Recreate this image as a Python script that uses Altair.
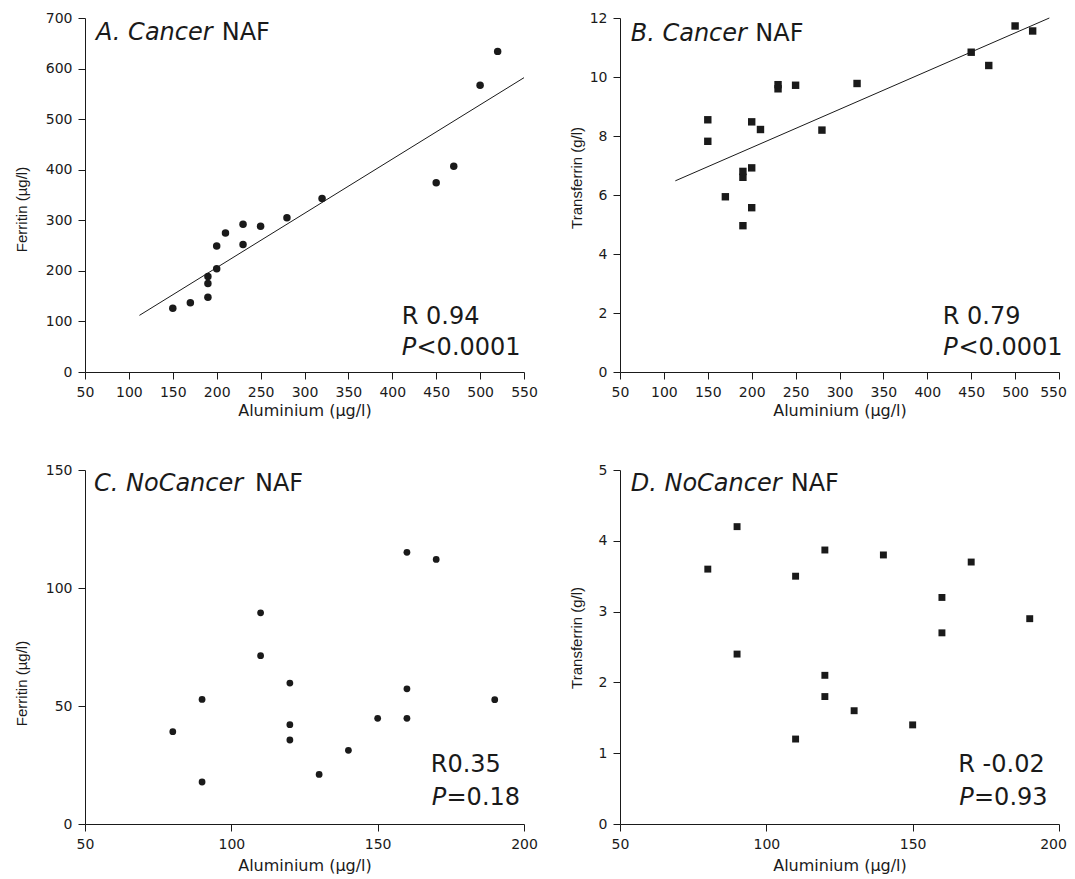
import altair as alt
import pandas as pd

# ---------------- data ----------------
a_x = [150, 170, 190, 190, 190, 200, 200, 210, 230, 230, 250, 280, 320, 450, 470, 500, 520]
a_y = [126, 137, 148, 175, 189, 204, 249, 275, 252, 292, 288, 305, 343, 374, 407, 567, 634]
a_line_x = [112, 550]
a_line_y = [112, 582]

b_x = [150, 150, 170, 190, 190, 190, 200, 200, 200, 210, 230, 230, 250, 280, 320, 450, 470, 500, 520]
b_y = [8.55, 7.82, 5.94, 4.96, 6.6, 6.8, 5.57, 6.92, 8.48, 8.22, 9.6, 9.74, 9.72, 8.2, 9.78, 10.84, 10.39, 11.73, 11.56]
b_line_x = [113, 539]
b_line_y = [6.48, 12.0]

c_x = [80, 90, 90, 110, 110, 120, 120, 120, 130, 140, 150, 160, 160, 160, 170, 190]
c_y = [39.1, 52.8, 17.8, 89.5, 71.3, 59.7, 42.1, 35.6, 21.0, 31.2, 44.8, 115.1, 57.3, 44.8, 112.1, 52.7]

d_x = [80, 90, 90, 110, 110, 120, 120, 120, 130, 140, 150, 160, 160, 170, 190]
d_y = [3.6, 4.2, 2.4, 3.5, 1.2, 3.87, 2.1, 1.8, 1.6, 3.8, 1.4, 3.2, 2.7, 3.7, 2.9]

x_title = "Aluminium (µg/l)"
ferritin_title = "Ferritin (µg/l)"
transferrin_title = "Transferrin (g/l)"

panel_titles = [("A. Cancer", "NAF"), ("B. Cancer", "NAF"), ("C. NoCancer", "NAF"), ("D. NoCancer", "NAF")]
r_texts = ["R 0.94", "R 0.79", "R0.35", "R -0.02"]
p_texts = ["<0.0001", "<0.0001", "=0.18", "=0.93"]

W, H = 439, 354
INK = "#1a1a1a"
FONT = "DejaVu Sans"


def text_layer(txt, x, y, size, italic=False):
    return alt.Chart(pd.DataFrame({"t": [txt]})).mark_text(
        align="left", baseline="alphabetic", font=FONT, fontSize=size,
        fontStyle="italic" if italic else "normal", color=INK
    ).encode(x=alt.value(x), y=alt.value(y), text="t:N")


def panel(xs, ys, shape, size, xdom, xticks, ydom, yticks, ytitle, ytx, yty, xty,
          title, tpos, rtext, ptext, rpos, ppos, line=None, last_shift=0):
    df = pd.DataFrame({"x": xs, "y": ys})
    xaxis_kw = dict(values=xticks, title=x_title, titleY=xty,
                    titleBaseline="alphabetic", labelFlush=False)
    if last_shift:
        xaxis_kw["labelOffset"] = {
            "condition": {"test": f"datum.value == {xdom[1]}", "value": last_shift},
            "value": 0}
    xenc = alt.X("x:Q", scale=alt.Scale(domain=xdom, nice=False, zero=False),
                 axis=alt.Axis(**xaxis_kw))
    yenc = alt.Y("y:Q", scale=alt.Scale(domain=ydom, nice=False, zero=False),
                 axis=alt.Axis(values=yticks, title=ytitle, titleX=ytx, titleY=yty,
                               titleBaseline="alphabetic", titleAngle=270,
                               labelFlush=False))
    pts = alt.Chart(df).mark_point(shape=shape, filled=True, size=size, color=INK,
                                   opacity=1).encode(x=xenc, y=yenc)
    layers = [pts]
    if line is not None:
        ldf = pd.DataFrame({"x": line[0], "y": line[1]})
        layers.append(alt.Chart(ldf).mark_line(color=INK, strokeWidth=1).encode(
            x="x:Q", y="y:Q"))
    layers.append(text_layer(title[0], tpos[0], tpos[2], 24, italic=True))
    layers.append(text_layer(title[1], tpos[1], tpos[2], 24))
    layers.append(text_layer(rtext, rpos[0], rpos[1], 24))
    layers.append(text_layer("P", ppos[0], ppos[2], 24, italic=True))
    layers.append(text_layer(ptext, ppos[1], ppos[2], 24))
    return alt.layer(*layers).properties(width=W, height=H)


A = panel(a_x, a_y, "circle", 56, [50, 550], list(range(50, 551, 50)),
          [0, 700], list(range(0, 701, 100)), ferritin_title, -59, 191, 43,
          panel_titles[0], (11, 136.7, 22), r_texts[0], p_texts[0],
          (316.7, 306), (316.7, 331.5, 336.7), line=(a_line_x, a_line_y))
B = panel(b_x, b_y, "square", 55, [50, 550], list(range(50, 551, 50)),
          [0, 12], list(range(0, 13, 2)), transferrin_title, -38.3, 159.4, 43,
          panel_titles[1], (10.7, 135.3, 22.7), r_texts[1], p_texts[1],
          (322.7, 306), (323.3, 338.5, 336.7), line=(b_line_x, b_line_y),
          last_shift=-6)
C = panel(c_x, c_y, "circle", 46, [50, 200], [50, 100, 150, 200],
          [0, 150], [0, 50, 100, 150], ferritin_title, -59, 213, 46,
          panel_titles[2], (9, 170, 21.4), r_texts[2], p_texts[2],
          (345.7, 302.4), (346.7, 361.5, 334.7))
D = panel(d_x, d_y, "square", 48, [50, 200], [50, 100, 150, 200],
          [0, 5], [0, 1, 2, 3, 4, 5], transferrin_title, -38.3, 167.4, 46,
          panel_titles[3], (10.7, 170.7, 21.4), r_texts[3], p_texts[3],
          (338.3, 302.4), (339.3, 354, 334.7), last_shift=-6)

chart = alt.concat(A, B, C, D, columns=2, spacing={"row": 98, "column": 96},
                   bounds="flush").properties(
    padding={"left": 5, "top": 2, "right": 0, "bottom": 0}
).configure_view(stroke="transparent").configure_axis(
    grid=False, domainColor=INK, tickColor=INK, tickSize=7, domainWidth=1,
    tickWidth=1, labelColor=INK, titleColor=INK, labelFont=FONT, labelFontSize=14,
    labelPadding=6
).configure_axisX(
    titleFont=FONT, titleFontSize=16, titleFontWeight="normal"
).configure_axisY(
    titleFont="Liberation Sans", titleFontSize=15, titleFontWeight="normal"
)

chart.save("out.html", embed_options={"renderer": "svg", "actions": False})
